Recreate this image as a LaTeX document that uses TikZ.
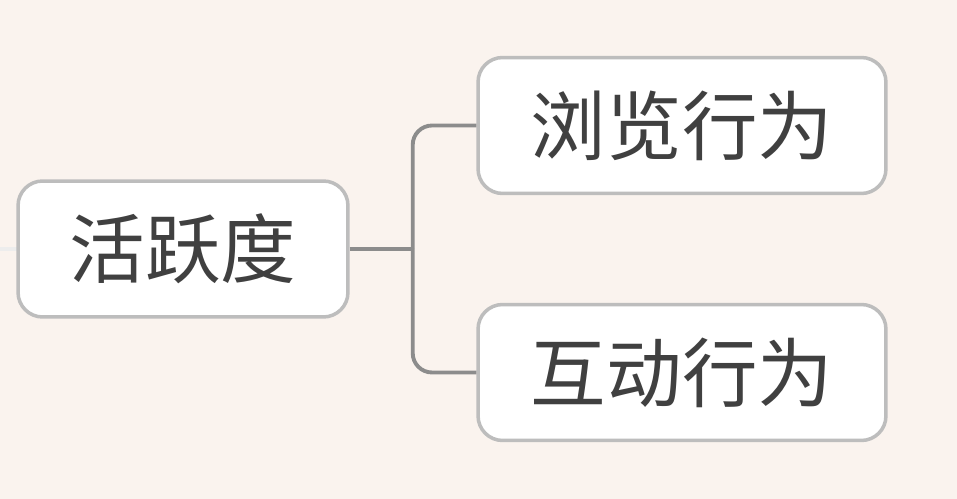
\documentclass[tikz,border=0pt]{standalone}
\usepackage{fontspec}
\newfontfamily\cjk{Noto Sans CJK SC}
\usepackage{xcolor}
\usetikzlibrary{positioning,calc,backgrounds}

\definecolor{paper}{HTML}{FAF3EE}
\definecolor{boxline}{HTML}{BDBDBD}
\definecolor{linkline}{HTML}{8C8C8C}
\definecolor{ink}{HTML}{404040}

\tikzset{
  topic/.style={rectangle,draw=boxline,line width=2pt,fill=white,rounded corners=14pt,
    minimum height=2.72cm,text=ink,font=\cjk\fontsize{43}{50}\selectfont,inner sep=0pt},
  link/.style={draw=linkline,line width=2.2pt},
}

\begin{document}
\begin{tikzpicture}[x=0.02cm,y=-0.02cm]
% page
\fill[paper] (0,0) rectangle (957,499);
\useasboundingbox (0,0) rectangle (957,499);

% faint link coming in from the left
\coordinate (inlet) at (0,249);
\draw[draw=black!7,line width=2.2pt] (inlet) -- (40,249);

% topics
\node[topic,minimum width=6.6cm] (act) at (183,249) {活跃度};
\node[topic,minimum width=8.16cm] (browse) at (682,125.5) {浏览行为};
\node[topic,minimum width=8.16cm] (interact) at (682,372.5) {互动行为};

% links
\draw[link] (act.east) -- ++(63,0) coordinate (fork);
\draw[link,rounded corners=11pt] (fork) |- (browse.west);
\draw[link,rounded corners=11pt] (fork) |- (interact.west);
\end{tikzpicture}
\end{document}
